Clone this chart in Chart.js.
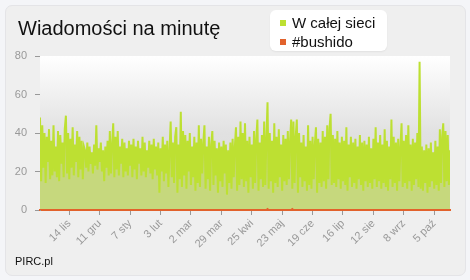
<!DOCTYPE html>
<html>
<head>
<meta charset="utf-8">
<script src="https://cdn.jsdelivr.net/npm/chart.js@4.4.1/dist/chart.umd.min.js"></script>
<style>
  html, body { margin: 0; padding: 0; background: #f4f5f8; }
  #wrap { position: relative; width: 470px; height: 280px; font-family: "Liberation Sans", Arial, sans-serif; }
  #panel { position: absolute; left: 5px; top: 5px; width: 459px; height: 269px; background: #efefef;
           border: 1px solid #e4e4e7; border-radius: 7px; }
  #chart { position: absolute; left: 0; top: 0; }
  #title { position: absolute; left: 18px; top: 18px; font-size: 20px; line-height: 20px; color: #111; }
  #legend { position: absolute; left: 270px; top: 10px; width: 117px; height: 41px; background: #fff;
            border-radius: 6px; box-shadow: 0 1px 2px rgba(0,0,0,0.06); }
  #legend div { position: absolute; left: 22px; font-size: 15px; line-height: 15px; color: #111; }
  #legend span { position: absolute; left: -12px; top: 5px; width: 6px; height: 6px; }
  #footer { position: absolute; left: 15px; top: 256px; font-size: 11px; line-height: 11px; color: #111; }
</style>
</head>
<body>
<div id="wrap">
  <div id="panel"></div>
  <canvas id="chart" width="470" height="280"></canvas>
  <div id="title">Wiadomości na minutę</div>
  <div id="legend"></div>
  <div id="footer">PIRC.pl</div>
</div>
<script>
// one value per day, 19 paź -> 18 paź
var allMessages = [
  48, 15, 44, 22, 40, 14, 38, 25, 42, 16, 36, 18, 44, 20, 33, 17, 41, 15, 39, 24,
  35, 17, 42, 49, 19, 40, 16, 37, 22, 43, 18, 34, 25, 41, 17, 38, 21, 36, 16, 33,
  31, 22, 35, 20, 33, 24, 30, 19, 34, 23, 44, 21, 32, 25, 35, 20, 31, 15, 33, 22,
  36, 18, 41, 19, 34, 45, 17, 38, 21, 41, 18, 33, 24, 37, 17, 35, 20, 32, 18, 36,
  23, 34, 17, 37, 21, 33, 16, 36, 24, 32, 18, 38, 20, 35, 17, 31, 22, 36, 19, 34,
  16, 37, 21, 33, 18, 35, 9, 32, 20, 38, 15, 34, 19, 36, 12, 31, 46, 17, 35, 14,
  38, 43, 9, 34, 16, 51, 12, 41, 18, 39, 11, 36, 20, 40, 13, 33, 17, 38, 10, 35,
  14, 44, 12, 37, 19, 35, 44, 11, 33, 16, 38, 10, 34, 41, 13, 36, 18, 32, 9, 35,
  15, 33, 12, 36, 19, 34, 8, 31, 14, 35, 11, 37, 17, 33, 43, 10, 38, 13, 46, 16,
  40, 12, 45, 15, 36, 9, 38, 17, 34, 11, 41, 14, 37, 47, 10, 35, 16, 39, 12, 46,
  13, 37, 56, 11, 40, 15, 36, 9, 45, 14, 38, 12, 42, 17, 34, 10, 39, 15, 37, 13,
  41, 16, 36, 47, 11, 46, 14, 38, 47, 9, 40, 17, 35, 12, 39, 15, 33, 10, 44, 13,
  36, 11, 38, 16, 34, 43, 9, 37, 14, 35, 12, 41, 15, 38, 11, 44, 16, 42, 50, 13,
  39, 14, 37, 12, 41, 16, 35, 11, 38, 15, 36, 13, 43, 10, 34, 17, 38, 12, 35, 14,
  37, 11, 33, 16, 39, 13, 35, 10, 36, 15, 34, 12, 38, 14, 32, 11, 37, 16, 43, 12,
  35, 15, 39, 11, 34, 14, 42, 12, 36, 10, 33, 16, 47, 12, 38, 14, 35, 10, 37, 15,
  33, 45, 12, 36, 14, 39, 11, 44, 15, 34, 10, 37, 13, 35, 16, 40, 12, 77, 11, 33,
  10, 31, 14, 34, 9, 32, 12, 35, 15, 30, 11, 36, 13, 33, 10, 42, 14, 38, 45, 12,
  41, 15, 39, 13, 31
];

// #bushido is almost always zero
var bushidoDays = [0, 201, 202, 203, 223, 224, 225, 364];
var bushidoValues = [0, 0, 0.5, 0, 0, 0.5, 0, 0];

var tickDays = [26, 53, 80, 107, 134, 161, 188, 215, 242, 269, 296, 323, 350];
var tickLabels = ['14 lis', '11 gru', '7 sty', '3 lut', '2 mar', '29 mar', '25 kwi',
  '23 maj', '19 cze', '16 lip', '12 sie', '8 wrz', '5 paź'];

var seriesNames = ['W całej sieci', '#bushido'];
var seriesColors = ['#bde032', '#e2622c'];

var mainPoints = [];
for (var i in allMessages) {
  mainPoints.push({ x: Number(i), y: allMessages[i] });
}
var bushidoPoints = [];
for (var j in bushidoDays) {
  bushidoPoints.push({ x: bushidoDays[j], y: bushidoValues[j] });
}

var plotBackground = {
  id: 'plotBackground',
  beforeDatasetsDraw: function(chart) {
    var a = chart.chartArea;
    var c = chart.ctx;
    var g = c.createLinearGradient(0, a.top, 0, a.bottom);
    g.addColorStop(0, '#ffffff');
    g.addColorStop(0.5, '#e1e1e1');
    g.addColorStop(1, '#d9d9d9');
    c.save();
    c.fillStyle = g;
    c.fillRect(a.left, a.top, a.right - a.left, a.bottom - a.top);
    c.restore();
  }
};

var ctx = document.getElementById('chart').getContext('2d');
var chart = new Chart(ctx, {
  type: 'line',
  data: {
    datasets: [{
      label: seriesNames[0],
      data: mainPoints,
      borderColor: seriesColors[0],
      backgroundColor: '#c6d87d',
      borderWidth: 2,
      pointRadius: 0,
      tension: 0,
      fill: 'origin',
      order: 1
    }, {
      label: seriesNames[1],
      data: bushidoPoints,
      borderColor: seriesColors[1],
      backgroundColor: seriesColors[1],
      borderWidth: 2,
      pointRadius: 0,
      tension: 0,
      fill: false,
      order: 0
    }]
  },
  options: {
    responsive: false,
    animation: false,
    layout: { padding: { top: 56, right: 20, left: 0, bottom: 0 } },
    plugins: { legend: { display: false }, tooltip: { enabled: false } },
    scales: {
      x: {
        type: 'linear',
        min: 0,
        max: allMessages.length - 1,
        afterFit: function(scale) { scale.height = 70; },
        afterBuildTicks: function(scale) {
          scale.ticks = tickDays.map(function(d) { return { value: d }; });
        },
        grid: { drawOnChartArea: false, tickLength: 5, color: '#999' },
        border: { display: true, color: seriesColors[1], width: 2 },
        ticks: {
          autoSkip: false,
          maxRotation: 45,
          minRotation: 45,
          padding: 2,
          color: '#999',
          font: { family: 'Liberation Sans', size: 11 },
          callback: function(value, index) { return tickLabels[index]; }
        }
      },
      y: {
        min: 0,
        max: 80,
        afterFit: function(scale) { scale.width = 40; },
        grid: { drawOnChartArea: false, tickLength: 5, color: '#999' },
        border: { display: true, color: '#999' },
        ticks: {
          stepSize: 20,
          padding: 8,
          color: '#999',
          font: { family: 'Liberation Sans', size: 11 }
        }
      }
    }
  },
  plugins: [plotBackground]
});

// legend from the datasets
var legend = document.getElementById('legend');
var html = '';
for (var k in chart.data.datasets) {
  var ds = chart.data.datasets[k];
  html += '<div style="top:' + (5 + k * 19) + 'px"><span style="background:' + ds.borderColor + '"></span>' + ds.label + '</div>';
}
legend.innerHTML = html;
</script>
</body>
</html>
